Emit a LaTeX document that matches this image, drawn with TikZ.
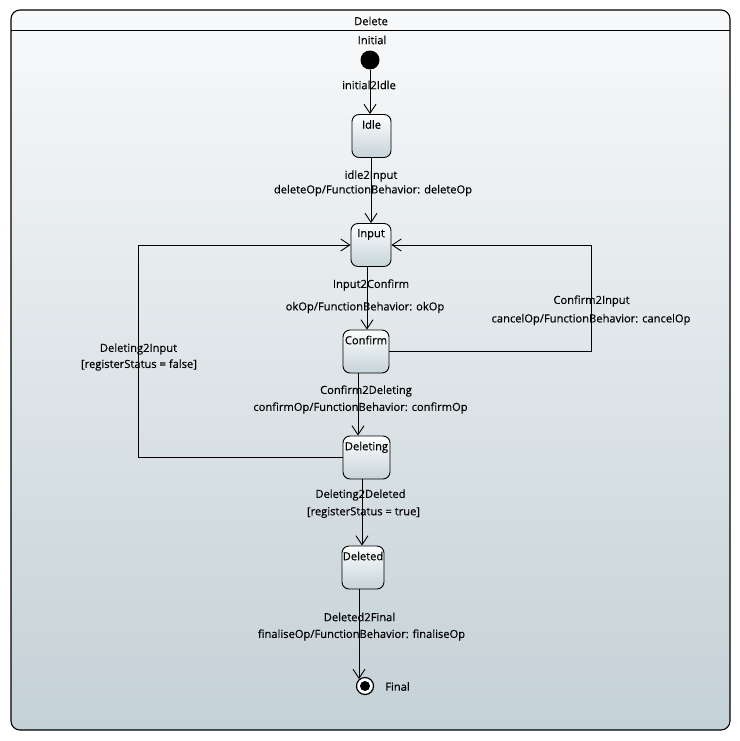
\documentclass[tikz,border=0pt]{standalone}
\usepackage{fontspec}
\setmainfont{Open Sans}[FakeBold=0.35]
\usetikzlibrary{arrows.meta}
\definecolor{bgtop}{HTML}{F8F9FA}
\definecolor{bgbot}{HTML}{C4D1D6}
\definecolor{sttop}{HTML}{FDFEFE}
\definecolor{stbot}{HTML}{C6D3D8}
\tikzset{
  txt/.style={font=\fontsize{11.2}{13}\selectfont, inner sep=0pt},
  statebox/.style={draw, line width=0.9bp, rounded corners=7bp, top color=sttop, bottom color=stbot,
    minimum width=#1, minimum height=43bp, inner sep=0pt},
  stname/.style={txt, anchor=north, inner sep=0pt},
  trans/.style={draw, line width=0.9bp, -{Straight Barb[length=9bp,width=12bp,line width=0.9bp]}},
}
\begin{document}
\begin{tikzpicture}[x=1bp,y=-1bp]
\useasboundingbox (0,0) rectangle (740,741);
% frame of the state machine
\shade[top color=bgtop, bottom color=bgbot, rounded corners=9bp] (11,10) rectangle (730,730);
\draw[line width=1.1bp, rounded corners=9bp] (11,10) rectangle (730,730);
\draw[line width=1bp] (11,30.5) -- (730,30.5);
\node[txt] (title) at (371,21) {Delete};

% pseudo states
\node[txt] (initlbl) at (372,40) {Initial};
\node[circle, fill=black, minimum size=19bp, inner sep=0pt] (init) at (370,60) {};
\node[circle, draw, line width=1.2bp, fill=white, minimum size=17bp, inner sep=0pt] (final) at (365,686) {};
\node[circle, fill=black, minimum size=10bp, inner sep=0pt] (finaldot) at (365,686) {};
\node[txt] (finallbl) at (397.5,686.5) {Final};

% states
\node[statebox=39bp] (idle) at (371.5,136) {};
\node[stname] at ([yshift=-6bp]idle.north) {Idle};
\node[statebox=40bp] (input) at (371,245) {};
\node[stname] at ([yshift=-6bp]input.north) {Input};
\node[statebox=46bp] (confirm) at (366,351.5) {};
\node[stname] at ([yshift=-6bp]confirm.north) {Confirm};
\node[statebox=47bp] (deleting) at (366.5,457.5) {};
\node[stname] at ([yshift=-6bp]deleting.north) {Deleting};
\node[statebox=42bp] (deleted) at (363,567.5) {};
\node[stname] at ([yshift=-6bp]deleted.north) {Deleted};

% helper points for the bends
\coordinate (lbend) at (138,0);
\coordinate (rbend) at (591,0);
\coordinate (fin) at (359,679);

% transitions
\draw[trans] (init.south) -- (init.south |- idle.north);
\draw[trans] (idle.south -| input.north) -- (input.north);
\draw[trans] ([xshift=-4bp]input.south) -- ([xshift=-4bp]input.south |- confirm.north);
\draw[trans] ([xshift=-8bp]confirm.south) -- ([xshift=-8bp]confirm.south |- deleting.north);
\draw[trans] ([xshift=-4.5bp]deleting.south) -- ([xshift=-4.5bp]deleting.south |- deleted.north);
\draw[trans] (deleted.south -| fin) -- (fin);
\draw[trans] (deleting.west) -- (deleting.west -| lbend) |- (input.west);
\draw[trans] (confirm.east) -- (confirm.east -| rbend) |- (input.east);

% transition labels
\node[txt] at (369,85) {initial2Idle};
\node[txt] at (371,176) {idle2Input};
\node[txt] at (373,190.5) {deleteOp/FunctionBehavior: deleteOp};
\node[txt] at (371,285) {Input2Confirm};
\node[txt] at (365,307.5) {okOp/FunctionBehavior: okOp};
\node[txt] at (591.5,301) {Confirm2Input};
\node[txt] at (591,319.5) {cancelOp/FunctionBehavior: cancelOp};
\node[txt] at (138.5,349) {Deleting2Input};
\node[txt] at (139,365) {[registerStatus = false]};
\node[txt] at (366,391) {Confirm2Deleting};
\node[txt] at (360.5,408) {confirmOp/FunctionBehavior: confirmOp};
\node[txt] at (360.5,495) {Deleting2Deleted};
\node[txt] at (363.5,512.5) {[registerStatus = true]};
\node[txt] at (359.5,617) {Deleted2Final};
\node[txt] at (361.5,635) {finaliseOp/FunctionBehavior: finaliseOp};
\end{tikzpicture}
\end{document}
